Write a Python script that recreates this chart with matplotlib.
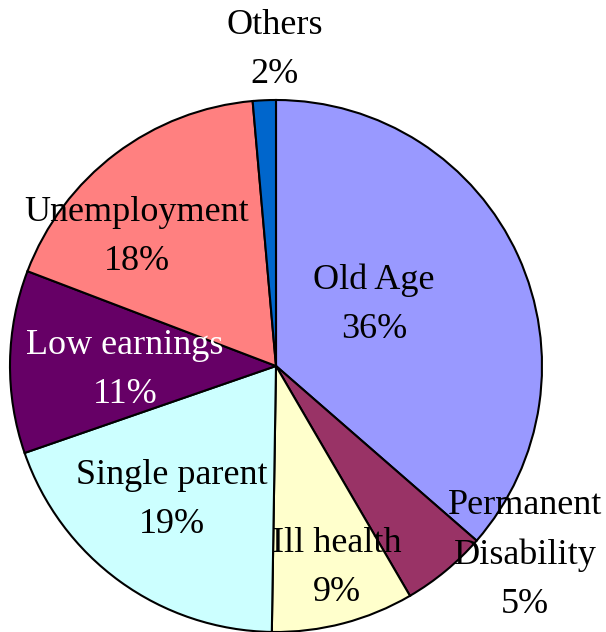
import matplotlib
matplotlib.use("Agg")
import matplotlib.pyplot as plt

categories = ["Old Age", "Permanent\nDisability", "Ill health", "Single parent",
              "Low earnings", "Unemployment", "Others"]
shares = [36.4, 5.2, 8.65, 19.45, 11.1, 17.8, 1.4]      # slice sizes
pct_labels = [36, 5, 9, 19, 11, 18, 2]                  # printed percentages
colors = ["#9999FF", "#993366", "#FFFFCC", "#CCFFFF", "#660066", "#FF8080", "#0066CC"]
text_colors = ["black", "black", "black", "black", "white", "black", "black"]

# label centre positions (pie radius = 1)
label_pos = [(0.368, 0.229), (0.936, -0.711), (0.229, -0.759), (-0.391, -0.504),
             (-0.568, -0.015), (-0.523, 0.485), (-0.004, 1.188)]

W, H = 606, 632
cx, cy, R = 276, 366, 266
fig = plt.figure(figsize=(W / 100, H / 100), dpi=100)
ax = fig.add_axes([(cx - R) / W, (H - cy - R) / H, 2 * R / W, 2 * R / H])
ax.pie(shares, colors=colors, startangle=90, counterclock=False, radius=1,
       wedgeprops=dict(edgecolor="black", linewidth=1.5))
ax.set_xlim(-1, 1)
ax.set_ylim(-1, 1)
ax.set_aspect("equal")
ax.axis("off")

for cat, v, (x, y), tc in zip(categories, pct_labels, label_pos, text_colors):
    ax.text(x, y, f"{cat}\n{v}%", ha="center", va="center", fontsize=26,
            family="Liberation Serif", linespacing=1.65, color=tc, clip_on=False)

fig.savefig("out.png", dpi=100)
